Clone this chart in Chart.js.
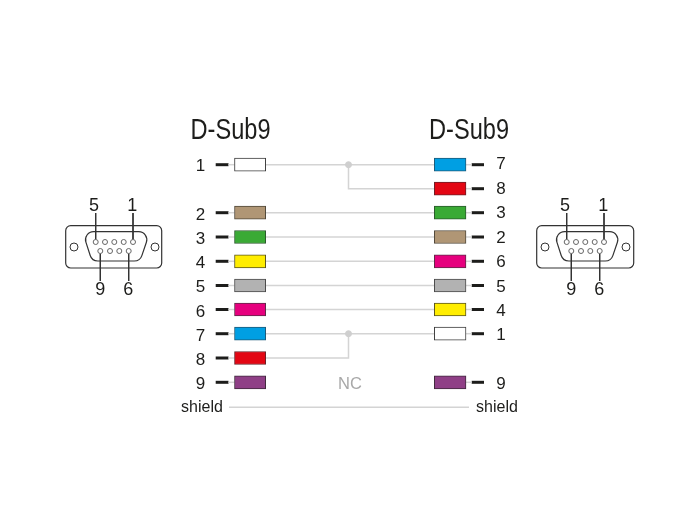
<!DOCTYPE html>
<html>
<head>
<meta charset="utf-8">
<title>D-Sub9</title>
<script src="https://cdn.jsdelivr.net/npm/chart.js@4/dist/chart.umd.min.js"></script>
<style>
  html, body { margin: 0; padding: 0; background: #fff; }
  canvas { display: block; }
</style>
</head>
<body>
<canvas id="wiring" width="700" height="530"></canvas>
<script>
// rows of the wiring table, top to bottom
const rowY = [164.7, 188.7, 212.7, 237, 261.3, 285.5, 309.5, 333.7, 358, 382.3, 407.3];

// left side
const leftPins = ['1', '2', '3', '4', '5', '6', '7', '8', '9'];
const leftRows = [0, 2, 3, 4, 5, 6, 7, 8, 9];
const leftColors = ['white', 'tan', 'green', 'yellow', 'grey', 'magenta', 'blue', 'red', 'purple'];
const leftBaseline = [171, 219.8, 244, 268, 292, 316.5, 340.5, 364.8, 389];

// right side
const rightPins = ['7', '8', '3', '2', '6', '5', '4', '1', '9'];
const rightRows = [0, 1, 2, 3, 4, 5, 6, 7, 9];
const rightColors = ['blue', 'red', 'green', 'tan', 'magenta', 'grey', 'yellow', 'white', 'purple'];
const rightBaseline = [169.2, 193.5, 218.3, 242.7, 267, 291.5, 316, 340, 389];

const titles = ['D-Sub9', 'D-Sub9'];
const shieldLabel = 'shield';
const ncLabel = 'NC';

const fills = {
  white: '#ffffff', tan: '#b09675', green: '#3aaa35', yellow: '#ffed00', grey: '#b2b2b2',
  magenta: '#e6007e', blue: '#009fe3', red: '#e30613', purple: '#8f3f86'
};
const strokes = {
  white: '#3c3c3c', tan: '#50483a', green: '#2b5a2c', yellow: '#5a5420', grey: '#4a4a4a',
  magenta: '#5e2a48', blue: '#1d5a78', red: '#6b2028', purple: '#3f2a3c'
};

// straight wires, by row
const straightRows = [2, 3, 4, 5, 6];
// columns
const leftBox = [234.5, 265.7];
const rightBox = [434.3, 466];
const leftDash = [215.7, 228.5];
const rightDash = [471.7, 484];
const spliceX = 348.5;
const shieldSpan = [229, 469];

// 9 pin connector, left one, the right one is the same moved over
const connectorShift = [0, 471];
const pinTopX = [95.7, 105, 114.3, 123.7, 133];
const pinBottomX = [100.3, 110, 119.3, 128.7];
const pinTopY = 242;
const pinBottomY = 251;
const shellOuter = [65.7, 225.7, 161.7, 268];
const shellInner = [[82.5, 231.7], [92, 261], [140, 261], [150, 231.7]];
const screwX = [74, 155];
const screwY = 247;
const leaders = [
  { label: '5', x: 95.7, textX: 94, from: 213, to: 239.5, baseline: 210.7 },
  { label: '1', x: 133, textX: 132.3, from: 213, to: 239.5, baseline: 210.7 },
  { label: '9', x: 100.3, textX: 100.3, from: 253.5, to: 281, baseline: 294.5 },
  { label: '6', x: 128.7, textX: 128.3, from: 253.5, to: 281, baseline: 294.5 }
];

const ink = '#1d1d1b';
const wireGrey = '#d4d4d4';

function wire(points, color, width) {
  return {
    type: 'line', data: points.map(p => ({ x: p[0], y: p[1] })), borderColor: color, borderWidth: width,
    pointRadius: 0, tension: 0, fill: false, order: 3, xAxisID: 'x', yAxisID: 'y'
  };
}

const datasets = [];

// wires
straightRows.forEach(r => datasets.push(wire([[leftBox[1], rowY[r]], [rightBox[0], rowY[r]]], wireGrey, 1.5)));
datasets.push(wire([[leftBox[1], rowY[0]], [rightBox[0], rowY[0]]], wireGrey, 1.5));
datasets.push(wire([[spliceX, rowY[0]], [spliceX, rowY[1]], [rightBox[0], rowY[1]]], wireGrey, 1.5));
datasets.push(wire([[leftBox[1], rowY[7]], [rightBox[0], rowY[7]]], wireGrey, 1.5));
datasets.push(wire([[leftBox[1], rowY[8]], [spliceX, rowY[8]], [spliceX, rowY[7]]], wireGrey, 1.5));
datasets.push(wire([[shieldSpan[0], rowY[10]], [shieldSpan[1], rowY[10]]], wireGrey, 1.5));

// stubs and black dashes at each box
leftRows.forEach(r => {
  datasets.push(wire([[leftDash[1], rowY[r]], [leftBox[0], rowY[r]]], wireGrey, 1.5));
  datasets.push(wire([[leftDash[0], rowY[r]], [leftDash[1], rowY[r]]], ink, 3));
});
rightRows.forEach(r => {
  datasets.push(wire([[rightBox[1], rowY[r]], [rightDash[0], rowY[r]]], wireGrey, 1.5));
  datasets.push(wire([[rightDash[0], rowY[r]], [rightDash[1], rowY[r]]], ink, 3));
});

// splice dots
datasets.push({
  type: 'scatter', data: [{ x: spliceX, y: rowY[0] }, { x: spliceX, y: rowY[7] }],
  pointRadius: 3, backgroundColor: '#cfcfcf', borderColor: '#cfcfcf', order: 2, xAxisID: 'x', yAxisID: 'y'
});

// coloured boxes
const boxData = [];
const boxFill = [];
const boxStroke = [];
leftRows.forEach((r, i) => {
  boxData.push({ x: leftBox, y: rowY[r] });
  boxFill.push(fills[leftColors[i]]);
  boxStroke.push(strokes[leftColors[i]]);
});
rightRows.forEach((r, i) => {
  boxData.push({ x: rightBox, y: rowY[r] });
  boxFill.push(fills[rightColors[i]]);
  boxStroke.push(strokes[rightColors[i]]);
});
datasets.push({
  type: 'bar', indexAxis: 'y', data: boxData, backgroundColor: boxFill, borderColor: boxStroke,
  borderWidth: 1, borderSkipped: false, barThickness: 13, order: 1, xAxisID: 'x', yAxisID: 'y'
});

// connectors: leader lines and pin holes
connectorShift.forEach(dx => {
  leaders.forEach(l => datasets.push(wire([[l.x + dx, l.from], [l.x + dx, l.to]], '#333333', 1)));
  const pins = pinTopX.map(x => ({ x: x + dx, y: pinTopY })).concat(pinBottomX.map(x => ({ x: x + dx, y: pinBottomY })));
  datasets.push({
    type: 'scatter', data: pins, pointRadius: 2.5, backgroundColor: '#fff', borderColor: '#666666',
    borderWidth: 1, order: 2, xAxisID: 'x', yAxisID: 'y'
  });
  datasets.push({
    type: 'scatter', data: screwX.map(x => ({ x: x + dx, y: screwY })), pointRadius: 4, backgroundColor: '#fff',
    borderColor: '#333333', borderWidth: 1, order: 2, xAxisID: 'x', yAxisID: 'y'
  });
});

// shells and all the text
const diagramPlugin = {
  id: 'diagram',
  afterDatasetsDraw(chart) {
    const ctx = chart.ctx;
    const px = v => chart.scales.x.getPixelForValue(v);
    const py = v => chart.scales.y.getPixelForValue(v);

    ctx.save();
    ctx.strokeStyle = '#333333';
    ctx.lineWidth = 1.2;
    connectorShift.forEach(dx => {
      const [x0, y0, x1, y1] = shellOuter;
      ctx.beginPath();
      ctx.roundRect(px(x0 + dx), py(y0), px(x1) - px(x0) + (dx ? 1 : 0), py(y1) - py(y0), 5);
      ctx.stroke();

      const [a, b, c, d] = shellInner;
      ctx.beginPath();
      ctx.moveTo(px((a[0] + d[0]) / 2 + dx), py(a[1]));
      ctx.arcTo(px(a[0] + dx), py(a[1]), px(b[0] + dx), py(b[1]), 8);
      ctx.arcTo(px(b[0] + dx), py(b[1]), px(c[0] + dx), py(c[1]), 8);
      ctx.arcTo(px(c[0] + dx), py(c[1]), px(d[0] + dx), py(d[1]), 8);
      ctx.arcTo(px(d[0] + dx), py(d[1]), px(a[0] + dx), py(a[1]), 8);
      ctx.closePath();
      ctx.stroke();
    });

    ctx.textAlign = 'center';
    ctx.textBaseline = 'alphabetic';
    ctx.fillStyle = ink;

    // titles, squeezed to the narrow look of the original
    ctx.font = '29px "Liberation Sans"';
    ctx.fillText(titles[0], px(230.5), py(138.5), 80);
    ctx.fillText(titles[1], px(469), py(138.5), 80);

    // pin numbers
    ctx.font = '17px "Liberation Sans"';
    leftPins.forEach((t, i) => ctx.fillText(t, px(200.5), py(leftBaseline[i])));
    rightPins.forEach((t, i) => ctx.fillText(t, px(501), py(rightBaseline[i])));
    ctx.font = '18px "Liberation Sans"';
    connectorShift.forEach(dx => {
      leaders.forEach(l => ctx.fillText(l.label, px(l.textX + dx), py(l.baseline)));
    });

    // shield and NC
    ctx.font = '16px "Liberation Sans"';
    ctx.fillText(shieldLabel, px(202), py(412));
    ctx.fillText(shieldLabel, px(497), py(412));
    ctx.font = '16.5px "Liberation Sans"';
    ctx.fillStyle = '#a8a8a8';
    ctx.fillText(ncLabel, px(350), py(389));
    ctx.restore();
  }
};

new Chart(document.getElementById('wiring'), {
  type: 'scatter',
  data: { datasets: datasets },
  options: {
    responsive: false,
    animation: false,
    devicePixelRatio: 1,
    layout: { padding: 0, autoPadding: false },
    plugins: { legend: { display: false }, tooltip: { enabled: false } },
    scales: {
      x: { type: 'linear', min: 0, max: 700, display: false, offset: false },
      y: { type: 'linear', min: 0, max: 530, reverse: true, display: false, offset: false }
    }
  },
  plugins: [diagramPlugin]
});
</script>
</body>
</html>
